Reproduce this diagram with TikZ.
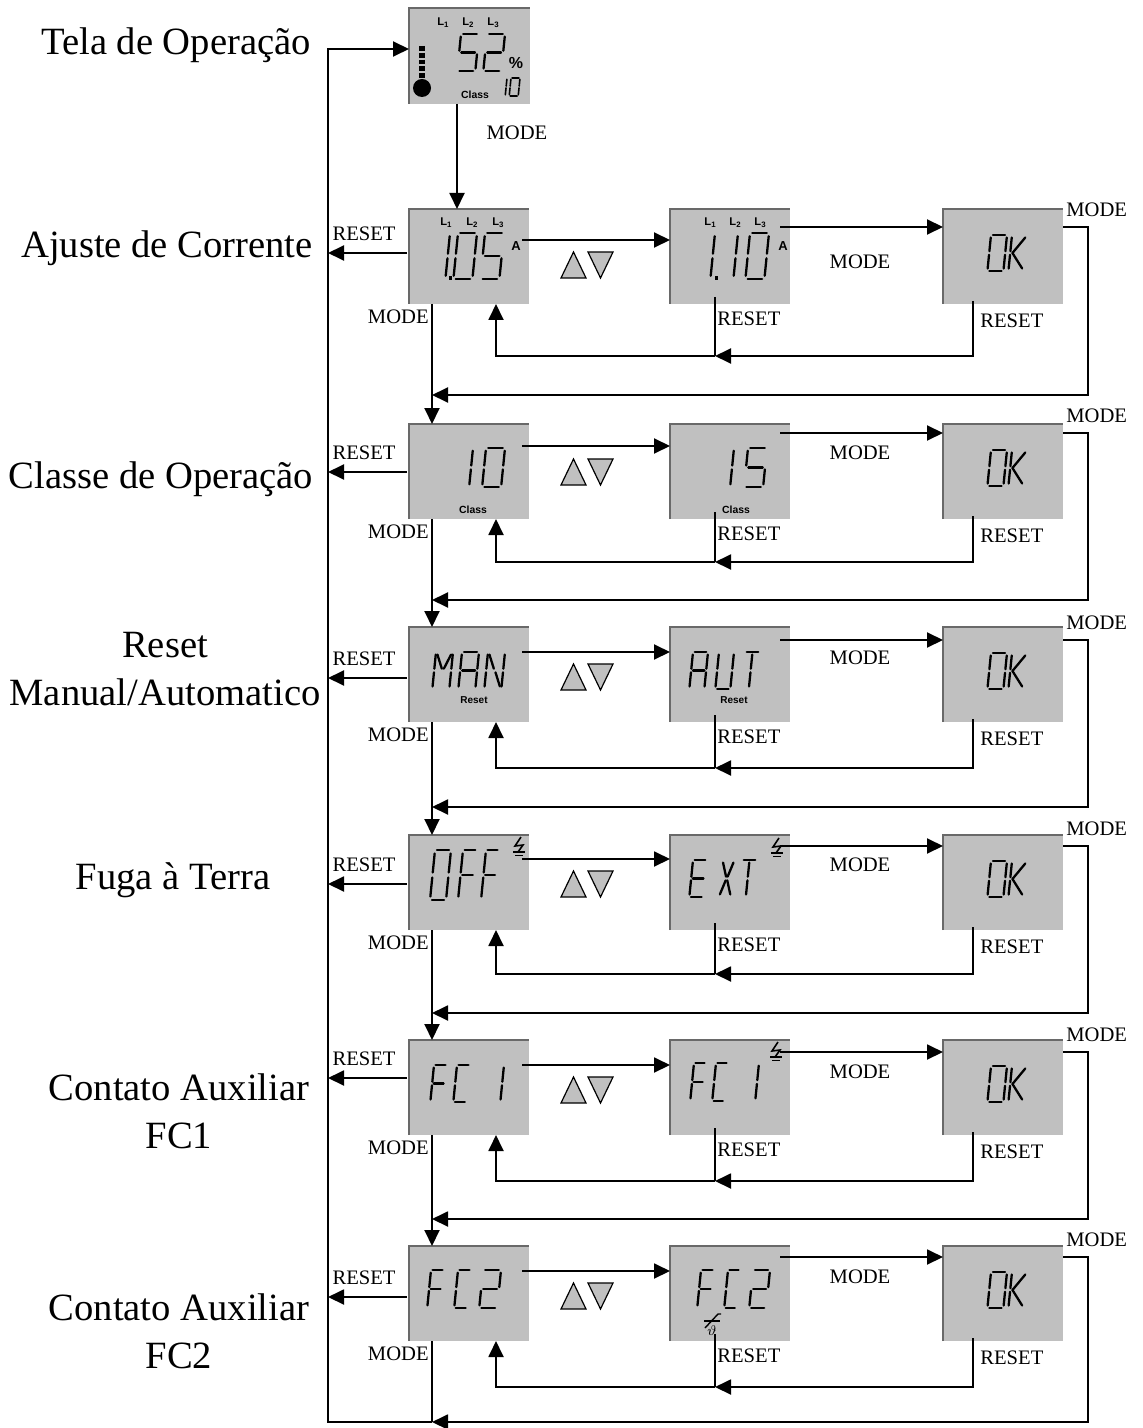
\documentclass[tikz,border=0pt]{standalone}
\usepackage{fontspec}
\setmainfont{Liberation Serif}
\newfontfamily\lcdfont{Liberation Sans}
\usetikzlibrary{arrows.meta,calc}
\definecolor{lcdgray}{RGB}{192,192,192}
\definecolor{lcdrimc}{RGB}{105,105,105}

% LCD segments (unit cell, y downwards)
\newcommand\lcsa{\draw[seg] (0.12,0)--(0.88,0);}
\newcommand\lcsb{\draw[seg] (1,0.07)--(1,0.45);}
\newcommand\lcsc{\draw[seg] (1,0.55)--(1,0.93);}
\newcommand\lcsd{\draw[seg] (0.12,1)--(0.88,1);}
\newcommand\lcse{\draw[seg] (0,0.55)--(0,0.93);}
\newcommand\lcsf{\draw[seg] (0,0.07)--(0,0.45);}
\newcommand\lcsg{\draw[seg] (0.12,0.5)--(0.88,0.5);}
\newcommand\lcsh{\draw[seg] (0.5,0.07)--(0.5,0.45);}
\newcommand\lcsi{\draw[seg] (0.5,0.55)--(0.5,0.93);}
\newcommand\lcsj{\draw[seg] (0.56,0.45)--(0.9,0.07);}
\newcommand\lcsk{\draw[seg] (0.56,0.55)--(0.9,0.93);}
\newcommand\lcsl{\draw[seg] (0.1,0.07)--(0.44,0.45);}
\newcommand\lcsm{\draw[seg] (0.44,0.55)--(0.1,0.93);}
\newcommand\lcsn{\draw[seg] (0.15,0.5)--(0.9,0.07);}
\newcommand\lcso{\draw[seg] (0.15,0.5)--(0.9,0.93);}

\def\Gzero{a,b,c,d,e,f}
\def\Gone{b,c}
\def\Gtwo{a,b,g,e,d}
\def\Gfive{a,f,g,c,d}
\def\GA{a,b,c,e,f,g}
\def\GU{b,c,d,e,f}
\def\GT{a,h,i}
\def\GM{f,e,b,c,l,j}
\def\GN{f,e,b,c,l,k}
\def\GF{a,f,e,g}
\def\GE{a,f,e,g,d}
\def\GX{l,j,m,k}
\def\GC{a,f,e,d}
\def\GK{f,e,n,o}

\newcommand\glyph[5]{\edef\glyphlist{#5}%
  \begin{scope}[shift={(#1,#2)},xslant=0.1,xscale=#3,yscale=#4]
    \foreach \s in \glyphlist {\csname lcs\s\endcsname}
  \end{scope}}

\newcommand\earthsym[2]{\begin{scope}[shift={(#1,#2)}]
  \draw[line width=0.8pt] (9,0) -- (3,9) -- (11,8) -- (6,15);
  \draw[line width=0.8pt] (1,15) -- (13,15) (3,18.5) -- (11,18.5);
\end{scope}}

\newcommand\thermsym[2]{\begin{scope}[shift={(#1,#2)}]
  \draw[line width=0.7pt] (-8,-4) -- (8,-4);
  \draw[line width=0.7pt] (-7,3) -- (6,-11) -- (9,-11);
  \node[inner sep=0pt, font=\fontsize{7.5}{7.5}\selectfont] at (0,6) {$\vartheta$};
\end{scope}}

\newcommand\Lthree[3]{%
  \node[lcdtxt,anchor=west] at (#1,#3) {L\textsubscript{1}};
  \node[lcdtxt,anchor=west] at (#2,#3) {L\textsubscript{2}};
  \node[lcdtxt,anchor=west] at ($(#2,#3)+(#2,0)-(#1,0)$) {L\textsubscript{3}};}

% one menu row
\newcommand\Row[9]{%
  \node[lcd] (#1a) at (409,#2) {};
  \node[lcd] (#1b) at (670,#2) {};
  \node[lcd] (#1c) at (943,#2) {};
  \draw[lcdrim] (#1a.south west) -- (#1a.north west) -- (#1a.north east);
  \draw[lcdrim] (#1b.south west) -- (#1b.north west) -- (#1b.north east);
  \draw[lcdrim] (#1c.south west) -- (#1c.north west) -- (#1c.north east);
  \coordinate (#1okr) at ($(#1c.south west)+(30,-3)$);
  \coordinate (#1rr) at ($(#1b.south west)+(45,-7)$);
  \coordinate (#1up) at ($(#1a.south west)+(87,0)$);
  \coordinate (#1dn) at ($(#1a.south west)+(23,0)$);
  \draw[arr] ($(#1a.east |- 0,#3)+(-7,0)$) -- (#1b.west |- 0,#3);
  \draw[arr] ($(#1b.east |- 0,#4)+(-10,0)$) -- (#1c.west |- 0,#4);
  \draw[arr] ($(#1a.west |- 0,#5)+(-2,0)$) -- (LL |- 0,#5);
  \draw[tri] (561,#6+13) -- (586,#6+13) -- (573.5,#6-13) -- cycle;
  \draw[tri] (588,#6-13) -- (613,#6-13) -- (600.5,#6+13) -- cycle;
  \draw[arr] (#1okr) -- (#1okr |- 0,#7) -- (#1rr |- 0,#7);
  \draw[ln] (#1rr) -- (#1rr |- 0,#7);
  \draw[arr] (#1rr |- 0,#7) -- (#1up |- 0,#7) -- (#1up);
  \draw[arr] (#1c.east |- 0,#4) -- (RR |- 0,#4) -- (RR |- 0,#8) -- (#1dn |- 0,#8);
  \node[sm] at (364,#5-19) {RESET};
  \node[sm,anchor=east] at (429,#2+108) {MODE};
  \node[sm,anchor=west] at (717,#2+110) {RESET};
  \node[sm,anchor=west] at (980,#2+112) {RESET};
  \node[sm] at (860,#9) {MODE};
  \node[sm,anchor=west] at (1066,#4-17) {MODE};
  \glyph{991}{#2+26}{16}{36}{\Gzero}
  \glyph{1012}{#2+26}{15}{36}{\GK}
}

\begin{document}
\begin{tikzpicture}[x=0.5pt,y=-0.5pt,
  lbl/.style={font=\fontsize{19.3}{24}\selectfont, align=center, inner sep=0pt},
  sm/.style={font=\fontsize{10.3}{12}\selectfont, inner sep=0pt},
  lcdtxt/.style={font=\lcdfont\bfseries\fontsize{5.6}{6}\selectfont, inner sep=0pt},
  lcd/.style={fill=lcdgray, minimum width=60pt, minimum height=47.5pt, inner sep=0pt, outer sep=0pt, anchor=north west},
  lcdrim/.style={draw=lcdrimc, line width=0.7pt},
  ln/.style={line width=0.95pt},
  arr/.style={ln, -{Triangle[length=8pt,width=7.5pt]}},
  tri/.style={draw=black, fill=lcdgray, line width=0.6pt, line join=miter},
  seg/.style={line width=1.15pt, line cap=round}]
\useasboundingbox (0,0) rectangle (1143,1428);

\coordinate (LL) at (328,49);
\coordinate (RR) at (1088,49);

% top display
\node[lcd, minimum width=60.5pt, minimum height=48pt] (top) at (409,8) {};
\draw[lcdrim] (top.south west) -- (top.north west) -- (top.north east);
\glyph{461}{34}{18}{37}{\Gfive}
\glyph{487}{34}{18}{37}{\Gtwo}
\node[lcdtxt, font=\lcdfont\bfseries\fontsize{8}{8}\selectfont] at (516,63) {\%};
\begin{scope}[seg/.style={line width=0.8pt, line cap=round}]
  \glyph{500}{78}{7}{18}{\Gone}
  \glyph{511}{78}{9}{18}{\Gzero}
\end{scope}
\node[lcdtxt, font=\lcdfont\bfseries\fontsize{5.2}{6}\selectfont] at (475,95) {Class};
\Lthree{437}{462}{23}
\draw[line width=3pt, dash pattern=on 2.4pt off 1pt] (422,46) -- (422,81);
\fill (422,88) circle[radius=9];

% rows
\Row{r1}{209}{240}{227}{253}{265}{356}{395}{262}
\Row{r2}{424}{446}{433}{472}{472}{562}{600}{453}
\Row{r3}{627}{652}{640}{678}{677}{768}{807}{658}
\Row{r4}{835}{859}{846}{884}{884}{974}{1013}{865}
\Row{r5}{1040}{1065}{1052}{1078}{1090}{1181}{1219}{1072}
\Row{r6}{1246}{1271}{1257}{1297}{1296}{1387}{1422}{1277}

% main flow
\coordinate (tdn) at ($(top.south west)+(48,0)$);
\draw[arr] (tdn) -- (tdn |- r1a.north);
\node[sm] at (517,133) {MODE};
\draw[arr] (r1dn) -- (r1dn |- r2a.north);
\draw[arr] (r2dn) -- (r2dn |- r3a.north);
\draw[arr] (r3dn) -- (r3dn |- r4a.north);
\draw[arr] (r4dn) -- (r4dn |- r5a.north);
\draw[arr] (r5dn) -- (r5dn |- r6a.north);
\draw[ln] (r6dn) -- (r6dn |- 0,1422);
\draw[arr] (r6dn |- 0,1422) -- (LL |- 0,1422) -- (LL) -- (top.west |- LL);

% row 1 contents
\glyph{433}{233}{17}{46}{\Gone}
\fill (449,276) rectangle (452,280);
\glyph{458}{233}{19}{46}{\Gzero}
\glyph{485}{233}{19}{46}{\Gfive}
\node[lcdtxt, font=\lcdfont\bfseries\fontsize{6.5}{7}\selectfont] at (516,246) {A};
\Lthree{440}{466}{223}
\glyph{698}{233}{17}{46}{\Gone}
\fill (715,276) rectangle (718,280);
\glyph{720}{233}{18}{46}{\Gone}
\glyph{750}{233}{19}{46}{\Gzero}
\node[lcdtxt, font=\lcdfont\bfseries\fontsize{6.5}{7}\selectfont] at (783,246) {A};
\Lthree{704}{729}{223}

% row 2 contents
\glyph{456}{448}{17}{39}{\Gone}
\glyph{486}{448}{19}{39}{\Gzero}
\node[lcdtxt, font=\lcdfont\bfseries\fontsize{5.2}{6}\selectfont] at (473,510) {Class};
\glyph{717}{448}{17}{39}{\Gone}
\glyph{748}{448}{19}{39}{\Gfive}
\node[lcdtxt, font=\lcdfont\bfseries\fontsize{5.2}{6}\selectfont] at (736,510) {Class};

% row 3 contents
\glyph{436}{652}{17}{37}{\GM}
\glyph{462}{652}{17}{37}{\GA}
\glyph{488}{652}{17}{37}{\GN}
\node[lcdtxt, font=\lcdfont\bfseries\fontsize{5}{6}\selectfont] at (474,700) {Reset};
\glyph{693}{652}{15}{37}{\GA}
\glyph{719}{652}{15}{37}{\GU}
\glyph{745}{652}{15}{37}{\GT}
\node[lcdtxt, font=\lcdfont\bfseries\fontsize{5}{6}\selectfont] at (734,700) {Reset};

% row 4 contents
\glyph{435}{850}{16}{50}{\Gzero}
\glyph{463}{850}{14}{50}{\GF}
\glyph{486}{850}{13}{50}{\GF}
\earthsym{512}{837}
\glyph{693}{860}{14}{37}{\GE}
\glyph{722}{860}{13}{37}{\GX}
\glyph{742}{860}{15}{37}{\GT}
\earthsym{770}{838}

% row 5 contents
\glyph{434}{1065}{13}{37}{\GF}
\glyph{457}{1065}{13}{37}{\GC}
\glyph{490}{1065}{14}{37}{\Gone}
\glyph{694}{1063}{12}{38}{\GF}
\glyph{716}{1063}{12}{38}{\GC}
\glyph{745}{1063}{14}{38}{\Gone}
\earthsym{769}{1042}

% row 6 contents
\glyph{431}{1270}{13}{38}{\GF}
\glyph{458}{1270}{13}{38}{\GC}
\glyph{483}{1270}{18}{38}{\Gtwo}
\glyph{701}{1270}{13}{38}{\GF}
\glyph{728}{1270}{12}{38}{\GC}
\glyph{753}{1270}{17}{38}{\Gtwo}
\thermsym{712}{1325}

% left labels
\node[lbl] (t0) at (176,45) {Tela de Operação};
\node[lbl] (t1) at (167,248) {Ajuste de Corrente};
\node[lbl] (t2) at (161,479) {Classe de Operação};
\node[lbl] (t3) at (165,669) {Reset\\Manual/Automatico};
\node[lbl] (t4) at (173,880) {Fuga à Terra};
\node[lbl] (t5) at (179,1111) {Contato Auxiliar\\FC1};
\node[lbl] (t6) at (179,1331) {Contato Auxiliar\\FC2};
\end{tikzpicture}
\end{document}
